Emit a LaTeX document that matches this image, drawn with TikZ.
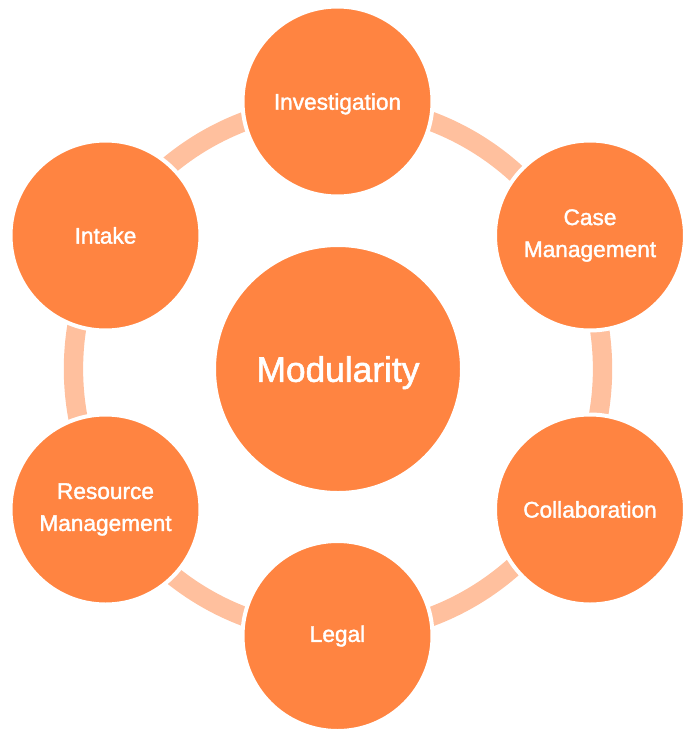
\documentclass[tikz,border=0pt]{standalone}
\usepackage{fontspec}
\setmainfont{Liberation Sans}[FakeBold=1.6]
\usepackage{tikz}
\definecolor{modorange}{HTML}{FF8441}
\definecolor{modring}{HTML}{FFC09E}

\begin{document}
\begin{tikzpicture}[x=0.75pt,y=-0.75pt,
    part/.style={circle,fill=modorange,draw=white,line width=3pt,minimum size=142.5pt,
      inner sep=0pt,text=white,align=center,font=\fontsize{17}{24}\selectfont},
    hub/.style={part,minimum size=186pt,font=\fontsize{26.5}{30}\selectfont}]
        \useasboundingbox (0,0) rectangle (685,729);
        \coordinate (O) at (338,369);
        \draw[modring,line width=14.5pt] (O) circle[radius=198.4pt];

        \node[hub,text depth=0pt] (M) at (O) {Modularity};
        \node[part,text depth=0pt] (I) at (337.5,101.5) {Investigation};
        \node[part] (C) at (590,235.5) {Case\\Management};
        \node[part] (Co) at (590,509.5) {Collaboration};
        \node[part] (L) at (337.5,636) {Legal};
        \node[part] (R) at (105.5,509.5) {Resource\\Management};
        \node[part] (In) at (105.5,235.5) {Intake};
\end{tikzpicture}
\end{document}
